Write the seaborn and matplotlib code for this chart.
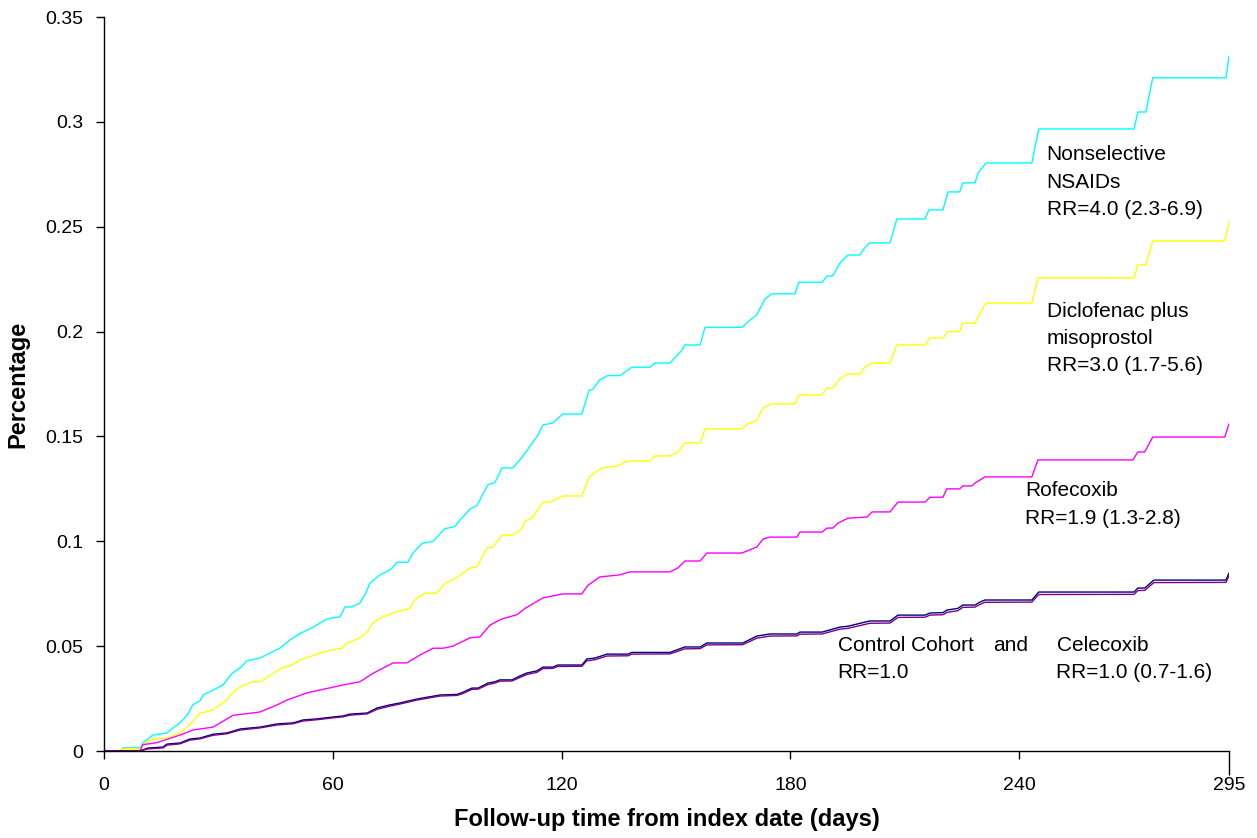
import pandas as pd
import seaborn as sns
import matplotlib.pyplot as plt

sns.set_theme(style="white")
plt.rcParams["font.family"] = ["Liberation Sans", "DejaVu Sans"]

# cumulative percentage of events by follow-up day
nsaid_days = [0, 4.2, 5.0, 9.4, 10.2, 12.8, 16.5, 18.1, 19.9, 21.8,
              23.3, 25.2, 26.0, 28.6, 31.2, 33.6, 35.7, 37.5, 40.9, 43.5,
              46.1, 48.8, 51.4, 54.8, 58.5, 61.9, 63.2, 65.0, 67.1, 68.4,
              69.7, 72.4, 75.5, 76.8, 79.7, 81.0, 83.4, 86.3, 89.4, 92.0,
              93.3, 96.0, 97.8, 99.9, 100.7, 102.5, 104.4, 107.2, 109.6, 111.2,
              113.8, 115.1, 117.7, 120.3, 125.3, 127.2, 128.2, 130.0, 132.1,
              135.3, 138.4, 143.2, 144.5, 148.4, 151.5, 152.3, 156.3, 157.6,
              167.3, 169.4, 171.2, 173.3, 175.1, 181.2, 182.2, 188.3, 189.6,
              191.1, 193.0, 195.1, 198.2, 199.5, 200.8, 206.1, 207.9, 215.3,
              216.3, 220.0, 221.3, 224.4, 225.2, 228.4, 229.2, 231.3, 243.3,
              245.1, 270.1, 271.1, 273.2, 275.0, 294.2, 295.0]
nsaid = [0, 0, 0.0015, 0.0015, 0.0038, 0.0076, 0.0086, 0.011, 0.0134, 0.017,
         0.022, 0.024, 0.0267, 0.029, 0.0315, 0.037, 0.0396, 0.043, 0.0443,
         0.0467, 0.049, 0.053, 0.056, 0.059, 0.063, 0.064, 0.0687, 0.0687,
         0.0705, 0.0744, 0.080, 0.084, 0.087, 0.090, 0.090, 0.0944, 0.099,
         0.100, 0.106, 0.107, 0.110, 0.1154, 0.117, 0.1245, 0.127, 0.128,
         0.135, 0.135, 0.140, 0.144, 0.1507, 0.1555, 0.1564, 0.1607, 0.1607,
         0.172, 0.1725, 0.177, 0.179, 0.179, 0.183, 0.183, 0.185, 0.185,
         0.191, 0.1936, 0.1936, 0.202, 0.202, 0.2055, 0.208, 0.2155, 0.218,
         0.218, 0.2235, 0.2235, 0.2265, 0.2265, 0.2327, 0.2365, 0.2365, 0.240,
         0.2423, 0.2423, 0.2537, 0.2537, 0.258, 0.258, 0.2666, 0.2666, 0.2709,
         0.2709, 0.2756, 0.2804, 0.2804, 0.2966, 0.2966, 0.3047, 0.3047,
         0.321, 0.321, 0.3314]

diclo_days = [0, 4.2, 5.0, 9.4, 10.2, 12.8, 16.5, 19.9, 21.8, 25.2,
              28.6, 32.2, 33.8, 35.7, 38.8, 40.9, 42.7, 44.3, 46.7, 49.3,
              51.4, 53.5, 56.6, 59.3, 62.4, 63.7, 67.1, 69.0, 70.5, 72.4,
              75.8, 79.4, 80.2, 81.5, 84.2, 87.3, 89.4, 92.0, 96.0, 97.8,
              100.4, 102.0, 104.4, 107.2, 109.6, 110.4, 112.2, 115.1, 116.9,
              120.3, 125.3, 127.2, 130.6, 134.8, 136.6, 138.4, 143.2, 144.5,
              148.4, 150.5, 152.3, 156.3, 157.6, 167.3, 168.9, 171.2, 172.8,
              175.1, 181.2, 182.2, 188.3, 189.6, 191.1, 193.2, 195.1, 198.2,
              199.5, 201.4, 206.1, 207.9, 215.3, 216.6, 220.0, 221.3, 224.4,
              225.2, 228.4, 229.2, 230.2, 231.3, 243.3, 244.9, 270.1, 271.1,
              273.2, 275.0, 293.9, 295.0]
diclo = [0, 0, 0.001, 0.001, 0.0029, 0.0057, 0.0062, 0.0086, 0.0114, 0.018,
         0.0196, 0.0243, 0.028, 0.0305, 0.033, 0.033, 0.035, 0.037, 0.0396,
         0.041, 0.0434, 0.0448, 0.0467, 0.048, 0.049, 0.0515, 0.0539, 0.0567,
         0.061, 0.0634, 0.0658, 0.0677, 0.068, 0.072, 0.0753, 0.0753, 0.080,
         0.082, 0.0873, 0.0878, 0.0968, 0.0973, 0.103, 0.103, 0.1059, 0.1097,
         0.111, 0.1187, 0.1187, 0.1216, 0.1216, 0.1307, 0.135, 0.136, 0.1378,
         0.1383, 0.1383, 0.1407, 0.1407, 0.1426, 0.1469, 0.1469, 0.1536,
         0.1536, 0.156, 0.1578, 0.1636, 0.1655, 0.1655, 0.1698, 0.1698,
         0.1731, 0.1731, 0.1779, 0.1798, 0.1798, 0.183, 0.185, 0.185, 0.1936,
         0.1936, 0.197, 0.197, 0.200, 0.200, 0.204, 0.204, 0.207, 0.2103,
         0.2136, 0.2136, 0.2256, 0.2256, 0.2318, 0.2318, 0.2432, 0.2432,
         0.2523]

rofe_days = [0, 9.4, 10.2, 13.9, 19.9, 23.3, 28.6, 33.8, 40.9, 45.4,
             48.0, 53.2, 62.7, 67.1, 70.5, 75.8, 79.4, 82.9, 86.3, 88.9,
             91.5, 96.0, 98.6, 101.2, 103.8, 104.4, 108.3, 110.4, 115.1, 120.3,
             125.3, 126.9, 130.0, 135.3, 137.9, 148.4, 150.5, 152.3, 156.3,
             158.1, 167.3, 171.2, 172.8, 174.6, 181.7, 182.5, 188.3, 189.6,
             191.1, 192.5, 195.1, 200.1, 201.4, 206.1, 208.2, 215.3, 216.6,
             220.0, 221.0, 224.4, 225.2, 227.6, 228.4, 229.7, 231.0, 243.3,
             244.9, 269.8, 271.1, 272.9, 275.0, 293.9, 295.0]
rofe = [0, 0, 0.003, 0.004, 0.0076, 0.010, 0.0114, 0.017, 0.0186, 0.022,
        0.0243, 0.0277, 0.0315, 0.033, 0.037, 0.042, 0.042, 0.0458, 0.049,
        0.049, 0.050, 0.054, 0.0544, 0.060, 0.0625, 0.063, 0.065, 0.068,
        0.073, 0.0749, 0.0749, 0.079, 0.083, 0.084, 0.0854, 0.0854, 0.0873,
        0.0906, 0.0906, 0.0944, 0.0944, 0.0973, 0.101, 0.102, 0.102, 0.1044,
        0.1044, 0.1063, 0.1063, 0.1087, 0.111, 0.1116, 0.114, 0.114, 0.1187,
        0.1187, 0.121, 0.121, 0.125, 0.125, 0.1264, 0.1264, 0.1278, 0.1292,
        0.1307, 0.1307, 0.1388, 0.1388, 0.1426, 0.1426, 0.1497, 0.1497, 0.156]

# control cohort and celecoxib share the same step days
ctrl_days = [0, 9.4, 11.5, 15.5, 16.5, 19.9, 22.5, 25.2, 28.6, 32.2,
             35.7, 40.9, 45.4, 49.6, 52.2, 55.8, 60.0, 62.7, 64.5, 69.0,
             71.6, 75.0, 77.6, 82.1, 88.1, 92.6, 94.1, 96.5, 98.1, 100.7,
             102.5, 103.8, 107.0, 109.1, 110.9, 113.5, 115.1, 117.7, 119.0,
             125.3, 126.6, 128.7, 131.9, 137.4, 138.4, 148.4, 152.3, 156.3,
             158.1, 167.5, 171.2, 174.6, 181.7, 182.5, 188.3, 193.0, 195.1,
             200.8, 206.1, 208.2, 215.3, 216.6, 220.0, 221.0, 223.9, 225.2,
             228.4, 229.7, 231.0, 243.3, 245.1, 270.1, 271.1, 272.9, 275.3,
             294.2, 295.0]
control = [0, 0, 0.0014, 0.0019, 0.0033, 0.0038, 0.0057, 0.0062, 0.0080,
           0.0086, 0.0105, 0.0114, 0.0129, 0.0134, 0.0148, 0.0153, 0.0162,
           0.0167, 0.0176, 0.0181, 0.0205, 0.0220, 0.0229, 0.0248, 0.0267,
           0.0270, 0.0280, 0.0300, 0.0300, 0.0324, 0.0330, 0.0339, 0.0339,
           0.0358, 0.0372, 0.0382, 0.0400, 0.0400, 0.0410, 0.0410, 0.0439,
           0.0443, 0.0462, 0.0462, 0.0470, 0.0470, 0.0496, 0.0496, 0.0515,
           0.0515, 0.0548, 0.0558, 0.0558, 0.0567, 0.0567, 0.0591, 0.0595,
           0.0620, 0.0620, 0.0648, 0.0648, 0.0658, 0.0660, 0.0672, 0.0680,
           0.0696, 0.0696, 0.0710, 0.0720, 0.0720, 0.0758, 0.0758, 0.0777,
           0.0777, 0.0815, 0.0815, 0.0849]
celecoxib = [0, 0, 0.0010, 0.0015, 0.0028, 0.0034, 0.0052, 0.0058, 0.0075,
             0.0082, 0.0100, 0.0110, 0.0124, 0.0130, 0.0143, 0.0149, 0.0158,
             0.0163, 0.0171, 0.0177, 0.0199, 0.0214, 0.0224, 0.0243, 0.0262,
             0.0265, 0.0274, 0.0294, 0.0295, 0.0317, 0.0324, 0.0333, 0.0334,
             0.0351, 0.0365, 0.0375, 0.0393, 0.0394, 0.0403, 0.0404, 0.0430,
             0.0435, 0.0453, 0.0454, 0.0462, 0.0463, 0.0487, 0.0488, 0.0506,
             0.0507, 0.0538, 0.0548, 0.0549, 0.0557, 0.0558, 0.0581, 0.0585,
             0.0609, 0.0610, 0.0637, 0.0638, 0.0648, 0.0650, 0.0661, 0.0669,
             0.0685, 0.0686, 0.0699, 0.0709, 0.0710, 0.0746, 0.0747, 0.0765,
             0.0766, 0.0803, 0.0804, 0.0836]

groups = ["Nonselective NSAIDs", "Diclofenac plus misoprostol", "Rofecoxib",
          "Control Cohort", "Celecoxib"]
colors = ["#00FFFF", "#FFFF00", "#FF00FF", "#000080", "#800080"]

x_ticks = [0, 60, 120, 180, 240, 295]
y_ticks = [0, 0.05, 0.1, 0.15, 0.2, 0.25, 0.3, 0.35]
y_labels = ["0", "0.05", "0.1", "0.15", "0.2", "0.25", "0.3", "0.35"]

series = [(nsaid_days, nsaid), (diclo_days, diclo), (rofe_days, rofe),
          (ctrl_days, control), (ctrl_days, celecoxib)]
data = pd.concat([pd.DataFrame({"day": d, "pct": v, "group": g})
                  for g, (d, v) in zip(groups, series)], ignore_index=True)

fig = plt.figure(figsize=(12.57, 8.38), dpi=100)
ax = fig.add_axes([104 / 1257, 1 - 751 / 838, 1125 / 1257, 734 / 838])

sns.lineplot(data=data, x="day", y="pct", hue="group", hue_order=groups,
             palette=dict(zip(groups, colors)), estimator=None, sort=False,
             linewidth=1.0, legend=False, ax=ax)

ax.set_xlim(0, 295)
ax.set_ylim(0, 0.35)
ax.set_xticks(x_ticks)
ax.set_xticklabels([str(t) for t in x_ticks])
ax.set_yticks(y_ticks)
ax.set_yticklabels(y_labels)
ax.tick_params(axis="x", direction="out", length=6, width=1, color="black",
               labelsize=14, labelcolor="black", pad=13, bottom=True)
ax.tick_params(axis="y", direction="out", length=6, width=1, color="black",
               labelsize=14, labelcolor="black", pad=9, left=True)
ax.xaxis.get_major_ticks()[-1].tick1line.set_markersize(17)

for side in ["top", "right"]:
    ax.spines[side].set_visible(False)
for side in ["left", "bottom"]:
    ax.spines[side].set_color("black")
    ax.spines[side].set_linewidth(1)

ax.set_xlabel("Follow-up time from index date (days)", fontsize=17,
              fontweight="bold", color="black")
ax.set_ylabel("Percentage", fontsize=17, fontweight="bold", color="black")
ax.xaxis.set_label_coords(0.5, -0.078)
ax.yaxis.set_label_coords(-0.066, 0.5)

txt = dict(fontsize=15, color="black", ha="left", va="center")
ax.text(247.2, 0.2842, "Nonselective", **txt)
ax.text(247.2, 0.2713, "NSAIDs", **txt)
ax.text(247.2, 0.2580, "RR=4.0 (2.3-6.9)", **txt)
ax.text(247.2, 0.2098, "Diclofenac plus", **txt)
ax.text(247.2, 0.1965, "misoprostol", **txt)
ax.text(247.2, 0.1836, "RR=3.0 (1.7-5.6)", **txt)
ax.text(241.5, 0.1240, "Rofecoxib", **txt)
ax.text(241.5, 0.1107, "RR=1.9 (1.3-2.8)", **txt)
ax.text(192.4, 0.0505, "Control Cohort", **txt)
ax.text(233.1, 0.0505, "and", **txt)
ax.text(249.9, 0.0505, "Celecoxib", **txt)
ax.text(192.4, 0.0372, "RR=1.0", **txt)
ax.text(249.6, 0.0372, "RR=1.0 (0.7-1.6)", **txt)

fig.savefig("out.png", dpi=100)
